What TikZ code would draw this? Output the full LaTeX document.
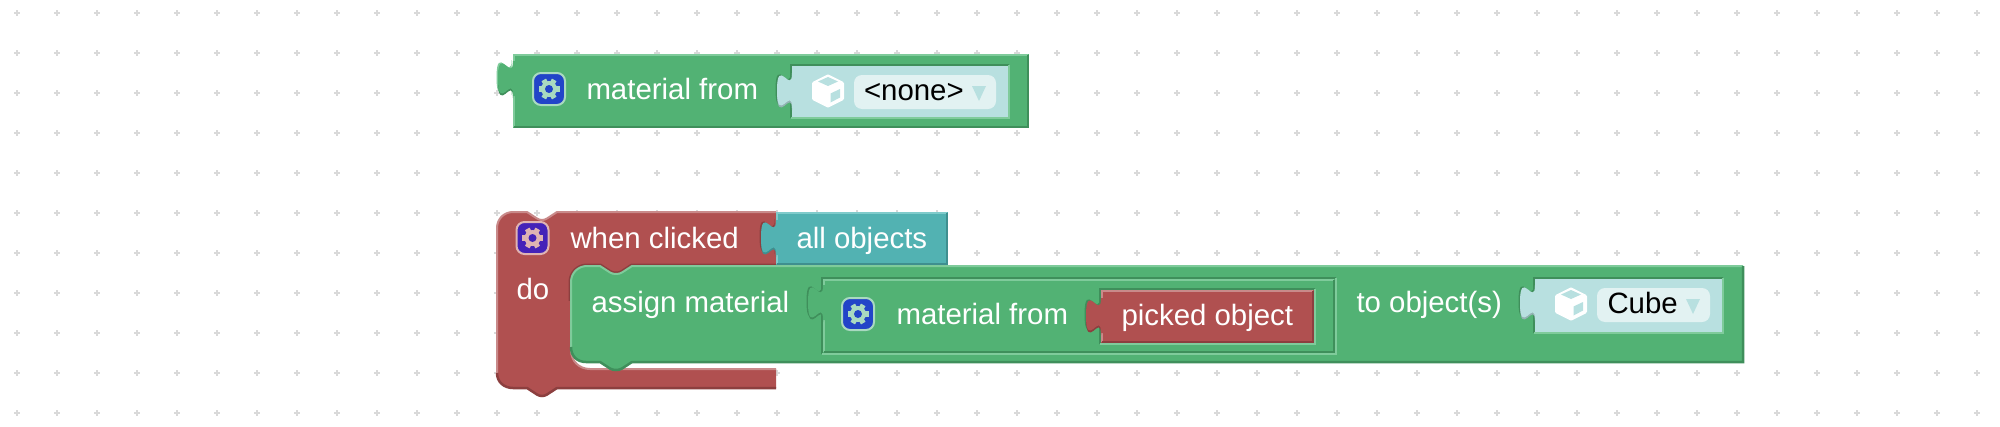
\documentclass[tikz,border=0pt]{standalone}
\usepackage{fontspec}
\setmainfont{Liberation Sans}
\usepackage{tikz}
\usetikzlibrary{positioning}
\definecolor{GREEN_FILL}{HTML}{52B274}
\definecolor{GREEN_DARK}{HTML}{3F8F5B}
\definecolor{GREEN_LIGHT}{HTML}{7FCB9B}
\definecolor{RED_FILL}{HTML}{B05050}
\definecolor{RED_DARK}{HTML}{8C3F3F}
\definecolor{RED_LIGHT}{HTML}{C98A8A}
\definecolor{TEAL_FILL}{HTML}{52B2B2}
\definecolor{TEAL_DARK}{HTML}{3F8F8F}
\definecolor{TEAL_LIGHT}{HTML}{7FCBCB}
\definecolor{FIELD_FILL}{HTML}{B8E0E0}
\definecolor{FIELD_DARK}{HTML}{93B3B3}
\definecolor{FIELD_LIGHT}{HTML}{E2F2F2}
\definecolor{BLUE_BADGE}{HTML}{2244C8}
\definecolor{BLUE_GEAR}{HTML}{A9D9C0}
\definecolor{PURPLE_BADGE}{HTML}{4422B8}
\definecolor{PURPLE_GEAR}{HTML}{DFB3B3}
\tikzstyle{layer}=[rectangle, inner sep=0pt, outer sep=0pt, anchor=north west]
\tikzstyle{txt}=[inner sep=0pt, outer sep=0pt, anchor=base west, font=\fontsize{29.4}{32}\selectfont, text=white]
\tikzstyle{pill}=[layer, rounded corners=8pt, fill=FIELD_LIGHT]
\tikzstyle{GREEN_LAYER}=[layer, fill=GREEN_FILL]
\tikzstyle{RED_LAYER}=[layer, fill=RED_FILL]
\tikzstyle{TEAL_LAYER}=[layer, fill=TEAL_FILL]
\tikzstyle{FIELD_LAYER}=[layer, fill=FIELD_FILL]
\tikzstyle{gridmark}=[line width=1.6pt, color=black!15]
\tikzstyle{edge}=[line width=2.5pt]
\tikzset{
  pics/peg/.style n args={3}{code={
    \fill[#2, xshift=-1.5pt, yshift=1pt] \pegpath;
    \fill[#3, yshift=-2pt] \pegpath;
    \fill[#1] \pegpath -- (3,35) -- (3,0) -- cycle;
  }},
  pics/gear/.style n args={2}{code={
    \draw[fill=#1, draw=#2, line width=2pt, rounded corners=8pt] (-16,-16) rectangle (16,16);
    \foreach \a in {30,90,...,330}
      \fill[#2, rotate=\a] (-2.6,0) -- (-2.6,10.5) -- (2.6,10.5) -- (2.6,0) -- cycle;
    \fill[#2] (0,0) circle (8);
    \fill[#1] (0,0) circle (4);
  }},
  pics/cube/.style={code={
    \fill[white, draw=white, line width=4pt, line join=round] (0,-14.5) -- (14,-7.5) -- (14,7.5) -- (0,14.5) -- (-14,7.5) -- (-14,-7.5) -- cycle;
    \fill[FIELD_FILL] (0,-14) -- (10,-9.5) -- (0,-5) -- (-10,-9.5) -- cycle;
    \fill[FIELD_FILL] (2.5,2.5) -- (12,-2) -- (12,6.5) -- (2.5,11.5) -- cycle;
  }}
}
\newcommand{\pegpath}{(0,0) .. controls (0,23) and (-15,-18) .. (-15,17.5) .. controls (-15,53) and (0,11.5) .. (0,35)}
% light on top and left, dark on bottom and right
\newcommand{\bevel}[3]{
  \draw[edge, #2] ([shift={(1,-1)}]#1.south west) -- ([shift={(1,1)}]#1.north west) -- ([shift={(-1,1)}]#1.north east);
  \draw[edge, #3] ([shift={(-1,1)}]#1.north east) -- ([shift={(-1,-1)}]#1.south east) -- ([shift={(1,-1)}]#1.south west);
}
% frame of the slot round a nested block
\newcommand{\slot}[3]{
  \draw[edge, #2] ([shift={(-1,1)}]#1.south west) -- ([shift={(-1,-1)}]#1.north west) -- ([shift={(1,-1)}]#1.north east);
  \draw[edge, #3] ([shift={(1,-1)}]#1.north east) -- ([shift={(1,1)}]#1.south east) -- ([shift={(-1,1)}]#1.south west);
}
% outlines of the two statement blocks, upper and lower run
\newcommand{\hatupper}{(497,373) -- (497,228) .. controls (497,219) and (504,212) .. (513,212) -- (527,212) -- (537,218.5) .. controls (540,220.5) and (544,220.5) .. (547,218.5) -- (557,212) -- (776,212)}
\newcommand{\hatlower}{(776,388) -- (557,388) -- (547,394.5) .. controls (544,396.5) and (540,396.5) .. (537,394.5) -- (527,388) -- (513,388) .. controls (504,388) and (497,382) .. (497,373)}
\newcommand{\assignupper}{(571,347) -- (571,282) .. controls (571,273) and (578,266) .. (587,266) -- (600,266) -- (610,272.5) .. controls (613,274.5) and (619,274.5) .. (622,272.5) -- (632,266) -- (1743,266)}
\newcommand{\assignlower}{(1743,266) -- (1743,362) -- (632,362) -- (622,368.5) .. controls (619,370.5) and (613,370.5) .. (610,368.5) -- (600,362) -- (586,362) .. controls (577,362) and (571,356) .. (571,347)}
\begin{document}
\begin{tikzpicture}[x=1pt, y=-1pt]
  \useasboundingbox (0,0) rectangle (2000,426);
  \fill[white] (0,0) rectangle (2000,426);

  % GRID
  \foreach \x in {17,57,...,1977}
    \foreach \y in {13,53,...,413}
      \draw[gridmark] (\x,\y) +(-3,0) -- +(3,0) +(0,-3) -- +(0,3);

  %%%%%%%%%%%%%%%%%%%%%%%%%%%%%%%%%%%%%%%%%%%%%%%%%
  % MATERIAL FROM
  %%%%%%%%%%%%%%%%%%%%%%%%%%%%%%%%%%%%%%%%%%%%%%%%%
  \node[GREEN_LAYER, minimum width=516pt, minimum height=74pt] (M1) at (513,54) {};
  \bevel{M1}{GREEN_LIGHT}{GREEN_DARK}
  \pic at (513,61) {peg={GREEN_FILL}{GREEN_LIGHT}{GREEN_DARK}};
  \pic at (549,89) {gear={BLUE_BADGE}{BLUE_GEAR}};
  \node[txt] (M1_label) at (586.5,99) {material from};

  \node[FIELD_LAYER, minimum width=216pt, minimum height=51pt] (F1) at (792,66) {};
  \slot{F1}{GREEN_DARK}{GREEN_LIGHT}
  \pic at (792,73) {peg={FIELD_FILL}{GREEN_DARK}{FIELD_DARK}};
  \pic at (828,91) {cube};
  \node[pill, minimum width=142pt, minimum height=34pt] (P1) at (854,75) {};
  \node[txt, text=black] (P1_label) at (864,100) {<none>};
  \fill[FIELD_FILL] (972,86) -- (986,86) -- (979,101) -- cycle;

  %%%%%%%%%%%%%%%%%%%%%%%%%%%%%%%%%%%%%%%%%%%%%%%%%
  % WHEN CLICKED
  %%%%%%%%%%%%%%%%%%%%%%%%%%%%%%%%%%%%%%%%%%%%%%%%%
  \fill[RED_FILL] \hatupper -- (776,265) -- (640,265) -- (640,290) -- (571,290) -- (571,350) .. controls (571,361) and (579,369) .. (590,369) -- (776,369) -- \hatlower -- cycle;
  \draw[line width=2pt, RED_LIGHT] \hatupper;
  \draw[edge, RED_DARK] \hatlower;
  \draw[line width=2pt, RED_LIGHT] (571,350) .. controls (571,361) and (579,369) .. (590,369) -- (776,369);
  \pic at (532.5,238) {gear={PURPLE_BADGE}{PURPLE_GEAR}};
  \node[txt] (W_label) at (570.5,248) {when clicked};
  \node[txt] (D_label) at (516.5,299) {do};

  \node[TEAL_LAYER, minimum width=172pt, minimum height=53pt] (A1) at (776,212) {};
  \bevel{A1}{TEAL_LIGHT}{TEAL_DARK}
  \pic at (776,220) {peg={TEAL_FILL}{RED_DARK}{TEAL_DARK}};
  \node[txt] (A1_label) at (796.5,248) {all objects};

  %%%%%%%%%%%%%%%%%%%%%%%%%%%%%%%%%%%%%%%%%%%%%%%%%
  % ASSIGN MATERIAL
  %%%%%%%%%%%%%%%%%%%%%%%%%%%%%%%%%%%%%%%%%%%%%%%%%
  \begin{scope}
    \clip (560,255) rectangle (776,300);
    \draw[line width=5pt, RED_DARK] \assignupper;
  \end{scope}
  \fill[GREEN_FILL] \assignupper -- \assignlower -- cycle;
  \draw[line width=2pt, GREEN_LIGHT] \assignupper;
  \draw[line width=2.5pt, GREEN_DARK] \assignlower;
  \node[txt] (G_label) at (591.5,312) {assign material};

  % nested material from
  \node[GREEN_LAYER, minimum width=512pt, minimum height=74pt] (M2) at (823,279) {};
  \slot{M2}{GREEN_DARK}{GREEN_LIGHT}
  \bevel{M2}{GREEN_LIGHT}{GREEN_DARK}
  \pic at (823,285) {peg={GREEN_FILL}{GREEN_DARK}{GREEN_DARK}};
  \pic at (858,314) {gear={BLUE_BADGE}{BLUE_GEAR}};
  \node[txt] (M2_label) at (896.5,324) {material from};

  \node[RED_LAYER, minimum width=213pt, minimum height=53pt] (R1) at (1101,290) {};
  \slot{R1}{GREEN_DARK}{GREEN_LIGHT}
  \bevel{R1}{RED_LIGHT}{RED_DARK}
  \pic at (1101,298) {peg={RED_FILL}{GREEN_DARK}{RED_DARK}};
  \node[txt] (R1_label) at (1121.5,325) {picked object};

  \node[txt] (O_label) at (1356.5,312) {to object(s)};
  \node[FIELD_LAYER, minimum width=187pt, minimum height=53pt] (F2) at (1535,279) {};
  \slot{F2}{GREEN_DARK}{GREEN_LIGHT}
  \pic at (1535,285) {peg={FIELD_FILL}{GREEN_DARK}{FIELD_DARK}};
  \pic at (1571,304) {cube};
  \node[pill, minimum width=113pt, minimum height=34pt] (P2) at (1597,288) {};
  \node[txt, text=black] (P2_label) at (1607.5,313) {Cube};
  \fill[FIELD_FILL] (1686,299) -- (1700,299) -- (1693,314) -- cycle;
\end{tikzpicture}
\end{document}
